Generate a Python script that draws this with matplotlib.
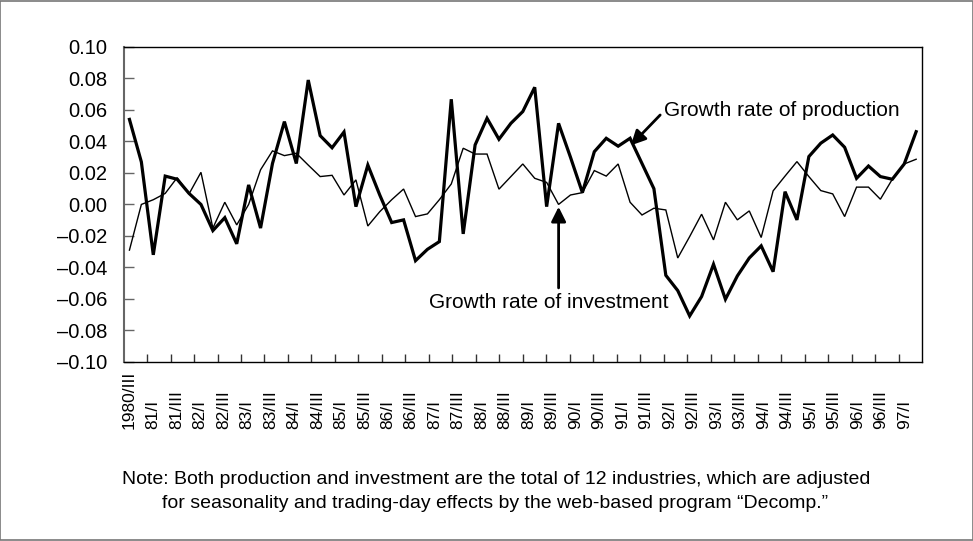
import numpy as np
import matplotlib
matplotlib.use("Agg")
import matplotlib.pyplot as plt
from matplotlib.patches import Rectangle

plt.rcParams['font.family'] = ['Liberation Sans', 'DejaVu Sans']

# Growth rate of production (thick line), quarterly 1980/III onward
production = [0.054, 0.027, -0.032, 0.018, 0.016, 0.007, 0.000, -0.0166, -0.0084, -0.025,
              0.0124, -0.015, 0.026, 0.0526, 0.026, 0.079, 0.0437, 0.036, 0.046, -0.0014,
              0.025, 0.006, -0.0115, -0.0098, -0.0357, -0.0285, -0.0236, 0.0668, -0.0187, 0.0378,
              0.0547, 0.0414, 0.0515, 0.059, 0.0744, -0.0014, 0.0515, 0.030, 0.0075, 0.0335,
              0.042, 0.037, 0.042, 0.026, 0.010, -0.045, -0.0547, -0.0708, -0.0585, -0.038,
              -0.0602, -0.0454, -0.034, -0.0263, -0.0427, 0.0081, -0.0098, 0.0304, 0.0389, 0.0441,
              0.0363, 0.0166, 0.0244, 0.0177, 0.016, 0.0257, 0.0462]

# Growth rate of investment (thin line)
investment = [-0.029, 0.000, 0.003, 0.007, 0.017, 0.0067, 0.0204, -0.015, 0.0014, -0.013,
              0.000, 0.022, 0.034, 0.031, 0.0325, 0.025, 0.0177, 0.0185, 0.006, 0.0156,
              -0.0137, -0.0046, 0.003, 0.0098, -0.0077, -0.006, 0.003, 0.013, 0.0357, 0.032,
              0.032, 0.0097, 0.0177, 0.0257, 0.0166, 0.014, 0.000, 0.006, 0.0075, 0.0215,
              0.018, 0.0257, 0.0014, -0.0067, -0.0024, -0.0035, -0.034, -0.0204, -0.0062, -0.0225,
              0.0014, -0.0098, -0.0041, -0.021, 0.0086, 0.018, 0.0272, 0.0177, 0.0088, 0.0067,
              -0.0077, 0.011, 0.011, 0.0033, 0.016, 0.0257, 0.0287]

x_labels = ["1980/III", "81/I", "81/III", "82/I", "82/III", "83/I", "83/III", "84/I", "84/III",
            "85/I", "85/III", "86/I", "86/III", "87/I", "87/III", "88/I", "88/III", "89/I",
            "89/III", "90/I", "90/III", "91/I", "91/III", "92/I", "92/III", "93/I", "93/III",
            "94/I", "94/III", "95/I", "95/III", "96/I", "96/III", "97/I"]
n_categories = 68

y_ticks = [-0.10, -0.08, -0.06, -0.04, -0.02, 0.00, 0.02, 0.04, 0.06, 0.08, 0.10]
y_labels = ["\u20130.10", "\u20130.08", "\u20130.06", "\u20130.04", "\u20130.02", "0.00",
            "0.02", "0.04", "0.06", "0.08", "0.10"]

fig = plt.figure(figsize=(9.73, 5.41), dpi=100)
ax = fig.add_axes([0.127, 0.331, 0.8206, 0.5822])

x = np.linspace(0, n_categories - 1, len(production))
ax.plot(x, investment, color='black', lw=1.0, solid_joinstyle='miter')
ax.plot(x, production, color='black', lw=2.3, solid_joinstyle='miter')

ax.set_xlim(-0.5, n_categories - 0.5)
ax.set_ylim(-0.10, 0.10)

# x ticks: marks between every two categories, labels on first category of pair
ax.set_xticks(np.arange(1.5, n_categories - 1, 2))
ax.set_xticklabels([])
ax.set_xticks(np.arange(0, n_categories, 2), minor=True)
ax.set_xticklabels(x_labels, minor=True, rotation=90, fontsize=12.5, va='bottom')
ax.tick_params(axis='x', which='major', direction='in', length=6, width=1, color='#333333')
ax.tick_params(axis='x', which='minor', length=0, pad=(429 - 362) / 1.389)

ax.set_yticks(y_ticks)
ax.set_yticklabels(y_labels, fontsize=14.5)
ax.tick_params(axis='y', direction='in', length=7, width=1, color='#666666', pad=12)

for s in ['top', 'right', 'bottom']:
    ax.spines[s].set_color('black')
    ax.spines[s].set_linewidth(1.0)
ax.spines['left'].set_color('#666666')
ax.spines['left'].set_linewidth(1.5)

# annotations
ax.annotate('', xy=(42.7, 0.0375), xytext=(45.2, 0.0568),
            arrowprops=dict(arrowstyle='-|>', lw=2, color='black', mutation_scale=22,
                            shrinkA=0, shrinkB=0))
ax.text(45.5, 0.0595, 'Growth rate of production', fontsize=15, ha='left', va='center')
ax.annotate('', xy=(36.55, -0.0015), xytext=(36.55, -0.053),
            arrowprops=dict(arrowstyle='-|>', lw=2, color='black', mutation_scale=22,
                            shrinkA=0, shrinkB=0))
ax.text(35.75, -0.0625, 'Growth rate of investment', fontsize=15, ha='center', va='center')

fig.text(0.1255, 1 - 480 / 541, 'Note: Both production and investment are the total of 12 industries, which are adjusted',
         fontsize=14, ha='left', va='center')
fig.text(0.1665, 1 - 503 / 541, 'for seasonality and trading-day effects by the web-based program \u201cDecomp.\u201d',
         fontsize=14, ha='left', va='center')

fig.patches.append(Rectangle((0.0005, 0.001), 0.999, 0.998, transform=fig.transFigure,
                             fill=False, edgecolor='#777777', lw=1.2))

fig.savefig('out.png', dpi=100)
